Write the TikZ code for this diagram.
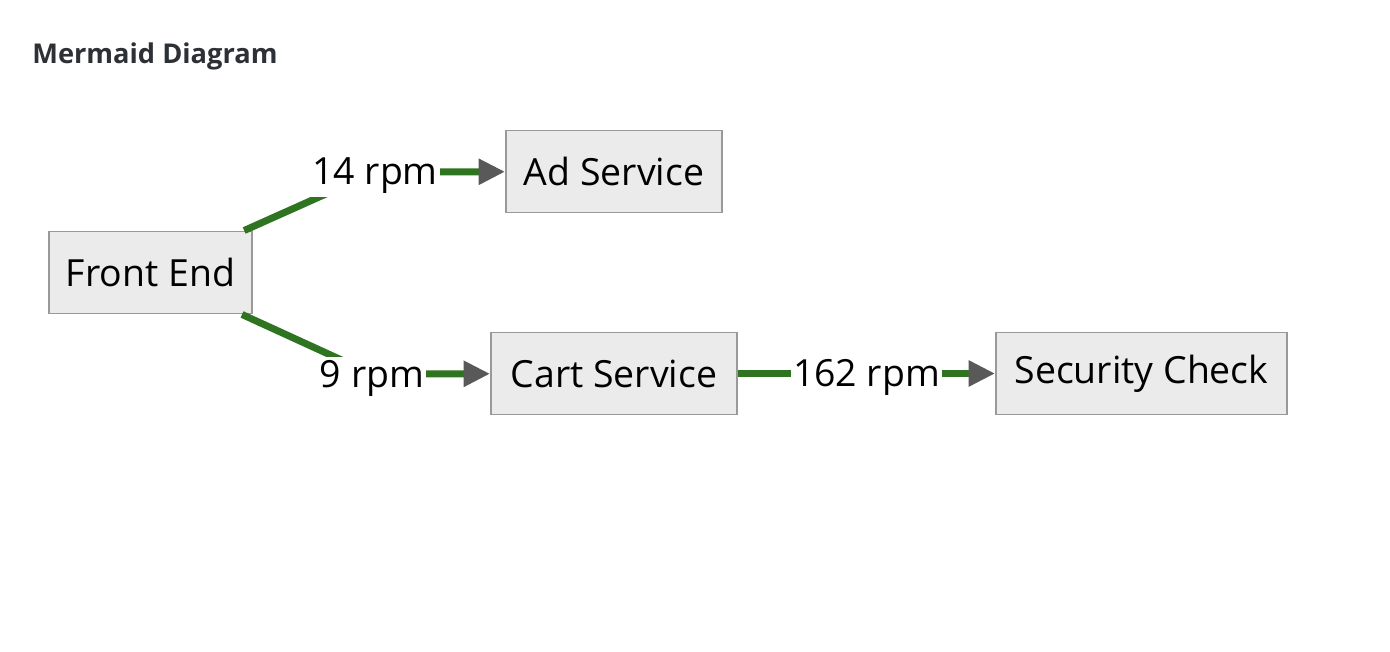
\documentclass[tikz,border=0pt]{standalone}
\usepackage{fontspec}
\setmainfont{Open Sans}
\usetikzlibrary{arrows.meta,calc}
\definecolor{boxfill}{HTML}{EBEBEB}
\definecolor{boxline}{HTML}{999999}
\definecolor{flow}{HTML}{2F7521}
\definecolor{tipgray}{HTML}{595959}
\definecolor{titlegray}{HTML}{2D3035}
\tikzset{
  svc/.style={draw=boxline, fill=boxfill, line width=1.1pt, inner sep=0pt,
    minimum height=1.64cm, font=\fontsize{21.3}{25}\selectfont},
  rate/.style={fill=white, inner sep=1pt, minimum height=0.84cm, yshift=-0.08cm,
    font=\fontsize{21.3}{25}\selectfont},
  flowline/.style={draw=flow, line width=4pt,
    -{Triangle[length=15pt,width=14pt,color=tipgray]}}
}
\begin{document}
\begin{tikzpicture}[x=0.02cm,y=-0.02cm]
\useasboundingbox (0,0) rectangle (1390,652);
\node[anchor=base west, inner sep=0pt, text=titlegray, font=\fontsize{15.5}{18}\selectfont\bfseries] (title) at (32,64) {Mermaid Diagram};
\node[svc, minimum width=4.06cm] (fe) at (150.5,272.5) {Front End};
\node[svc, minimum width=4.32cm] (ad) at (614,171.5) {Ad Service};
\node[svc, minimum width=4.92cm] (cs) at (614,373.5) {Cart Service};
\node[svc, minimum width=5.82cm] (sc) at (1141.5,373.5) {Security Check};
\coordinate (b1) at (375,172);
\coordinate (b2) at (372,374);
\path[flowline] (fe) -- (b1) -- (ad);
\path[flowline] (fe) -- (b2) -- (cs);
\path[flowline] (cs) -- (sc);
\node[rate] (r1) at (b1) {14 rpm};
\node[rate] (r2) at (b2) {9 rpm};
\node[rate] (r3) at ($(cs.east)!0.5!(sc.west)$) {162 rpm};
\end{tikzpicture}
\end{document}
